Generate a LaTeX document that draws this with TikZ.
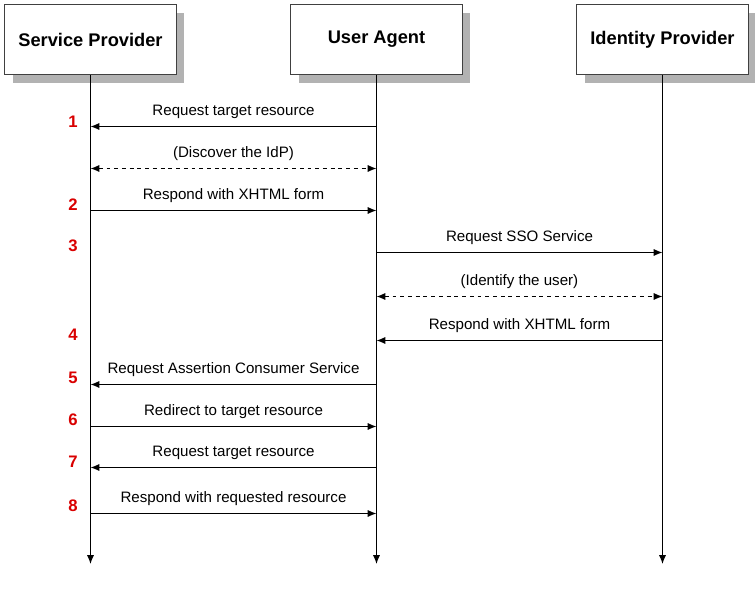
\documentclass[tikz,border=0pt]{standalone}
\usepackage{fontspec}
\setmainfont{Liberation Sans}
\usetikzlibrary{arrows.meta,positioning,shadows}

\begin{document}
\begin{tikzpicture}[
    x=0.02cm, y=-0.02cm,
    party/.style={draw=black!75, fill=white, minimum width=3.44cm, minimum height=1.41cm,
                  font=\fontsize{10.4}{12}\selectfont\bfseries,
                  drop shadow={shadow xshift=0.16cm, shadow yshift=-0.17cm, fill=black!30, opacity=1}},
    life/.style={-{Latex[length=5pt,width=4pt]}, line width=0.6pt},
    msg/.style={-{Latex[length=5pt,width=4pt]}, line width=0.55pt},
    both/.style={{Latex[length=5pt,width=4pt]}-{Latex[length=5pt,width=4pt]}, line width=0.55pt,
                 dash pattern=on 2.2pt off 2.2pt},
    lbl/.style={font=\fontsize{8.6}{10}\selectfont, above=1pt},
    step num/.style={font=\fontsize{9.5}{11}\selectfont\bfseries, text=red!85!black},
]
\useasboundingbox (0,0) rectangle (755,594);

% Parties
\node[party] (sp)  at (90.5, 39.5)  {Service Provider};
\node[party] (ua)  at (376.5, 39.5) {User Agent};
\node[party] (idp) at (662.5, 39.5) {Identity Provider};

% Lifelines
\coordinate (endline) at (0, 564);
\draw[life] (sp.south)  -- (sp |- endline);
\draw[life] (ua.south)  -- (ua |- endline);
\draw[life] (idp.south) -- (idp |- endline);

% Message rows
\coordinate (m1) at (0, 126.5);
\coordinate (md1) at (0, 168.5);
\coordinate (m2) at (0, 210.5);
\coordinate (m3) at (0, 252.5);
\coordinate (md2) at (0, 296.5);
\coordinate (m4) at (0, 340.5);
\coordinate (m5) at (0, 384.5);
\coordinate (m6) at (0, 426.5);
\coordinate (m7) at (0, 467.5);
\coordinate (m8) at (0, 513.5);

% Messages
\draw[msg]  (m1 -| ua)  -- node[lbl] {Request target resource} (m1 -| sp);
\draw[both] (md1 -| sp) -- node[lbl] {(Discover the IdP)} (md1 -| ua);
\draw[msg]  (m2 -| sp)  -- node[lbl] {Respond with XHTML form} (m2 -| ua);
\draw[msg]  (m3 -| ua)  -- node[lbl] {Request SSO Service} (m3 -| idp);
\draw[both] (md2 -| ua) -- node[lbl] {(Identify the user)} (md2 -| idp);
\draw[msg]  (m4 -| idp) -- node[lbl] {Respond with XHTML form} (m4 -| ua);
\draw[msg]  (m5 -| ua)  -- node[lbl] {Request Assertion Consumer Service} (m5 -| sp);
\draw[msg]  (m6 -| sp)  -- node[lbl] {Redirect to target resource} (m6 -| ua);
\draw[msg]  (m7 -| ua)  -- node[lbl] {Request target resource} (m7 -| sp);
\draw[msg]  (m8 -| sp)  -- node[lbl] {Respond with requested resource} (m8 -| ua);

% Step numbers
\node[step num] (n1) at (73, 122) {1};
\node[step num] (n2) at (73, 205) {2};
\node[step num] (n3) at (73, 246) {3};
\node[step num] (n4) at (73, 335) {4};
\node[step num] (n5) at (73, 378) {5};
\node[step num] (n6) at (73, 420) {6};
\node[step num] (n7) at (73, 462) {7};
\node[step num] (n8) at (73, 506) {8};
\end{tikzpicture}
\end{document}
